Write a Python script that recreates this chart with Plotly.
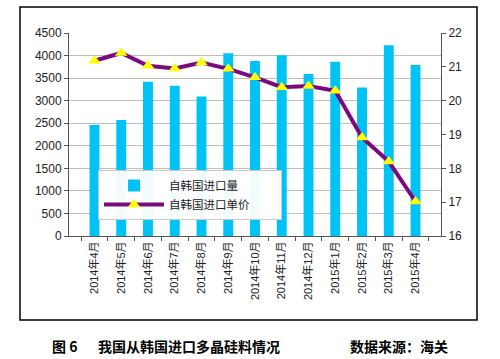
import plotly.graph_objects as go

months = ["2014年4月", "2014年5月", "2014年6月", "2014年7月", "2014年8月", "2014年9月",
          "2014年10月", "2014年11月", "2014年12月", "2015年1月", "2015年2月", "2015年3月", "2015年4月"]
volume = [2460, 2570, 3420, 3330, 3090, 4050, 3880, 4005, 3590, 3860, 3290, 4230, 3790]
price = [21.18, 21.41, 21.03, 20.95, 21.13, 20.94, 20.69, 20.40, 20.43, 20.29, 18.91, 18.20, 17.02]

font_fam = "Arial, 'Liberation Sans', 'Noto Sans CJK SC', sans-serif"
pad = "\u00a0" * 8

fig = go.Figure()
fig.add_trace(go.Bar(x=months, y=volume, name="自韩国进口量" + pad,
                     marker=dict(color="#00C3F5", line=dict(width=0)), width=0.37))
fig.add_trace(go.Scatter(x=months, y=price, name="自韩国进口单价" + pad, yaxis="y2",
                         mode="lines+markers",
                         line=dict(color="#7B0A7E", width=4),
                         marker=dict(symbol="triangle-up", size=11, color="#FFFF00",
                                     line=dict(width=0))))

fig.update_layout(
    width=500, height=359,
    margin=dict(l=69, r=59, t=33, b=123),
    paper_bgcolor="white", plot_bgcolor="white",
    font=dict(family=font_fam, size=12, color="#222"),
    showlegend=True,
    legend=dict(x=(98 - 69) / 372, y=(236 - 170) / 203, xanchor="left", yanchor="top",
                bgcolor="rgba(255,255,255,0.95)", bordercolor="#c8c8c8", borderwidth=1,
                font=dict(size=11.5), tracegroupgap=0, itemwidth=60),
    xaxis=dict(type="category", tickangle=-90, tickfont=dict(size=11),
               showline=True, linecolor="#555", linewidth=1,
               ticks="outside", ticklen=4, tickcolor="#555", tickson="boundaries",
               showgrid=False),
    yaxis=dict(range=[0, 4500], dtick=500, showgrid=True, gridcolor="#bdbdbd", gridwidth=1,
               showline=True, linecolor="#555", linewidth=1, ticks="outside", ticklen=4,
               tickcolor="#555", zeroline=False, tickfont=dict(size=12)),
    yaxis2=dict(range=[16, 22], dtick=1, overlaying="y", side="right", showgrid=False,
                showline=True, linecolor="#555", linewidth=1, ticks="outside", ticklen=4,
                tickcolor="#555", zeroline=False, tickfont=dict(size=12)),
    bargap=0.6,
)

fig.add_shape(type="rect", xref="paper", yref="paper",
              x0=(20 - 69) / 372, x1=(477 - 69) / 372,
              y0=(236 - 320) / 203, y1=(236 - 7) / 203,
              line=dict(color="black", width=1.5), fillcolor="rgba(0,0,0,0)", layer="below")

cap_font = dict(family="'Noto Sans CJK SC', sans-serif", size=14, color="black")
cap_y = (236 - 346) / 203
fig.add_annotation(text="<b>图 6</b>", xref="paper", yref="paper",
                   x=(50 - 69) / 372, y=cap_y, xanchor="left", yanchor="middle",
                   showarrow=False, font=cap_font)
fig.add_annotation(text="<b>我国从韩国进口多晶硅料情况</b>", xref="paper", yref="paper",
                   x=(96 - 69) / 372, y=cap_y, xanchor="left", yanchor="middle",
                   showarrow=False, font=cap_font)
fig.add_annotation(text="<b>数据来源：海关</b>", xref="paper", yref="paper",
                   x=(348 - 69) / 372, y=cap_y, xanchor="left", yanchor="middle",
                   showarrow=False, font=cap_font)

fig.write_html("out.html", config={"displayModeBar": False},
               post_script="document.body.style.margin='0';document.body.style.overflow='hidden';")
